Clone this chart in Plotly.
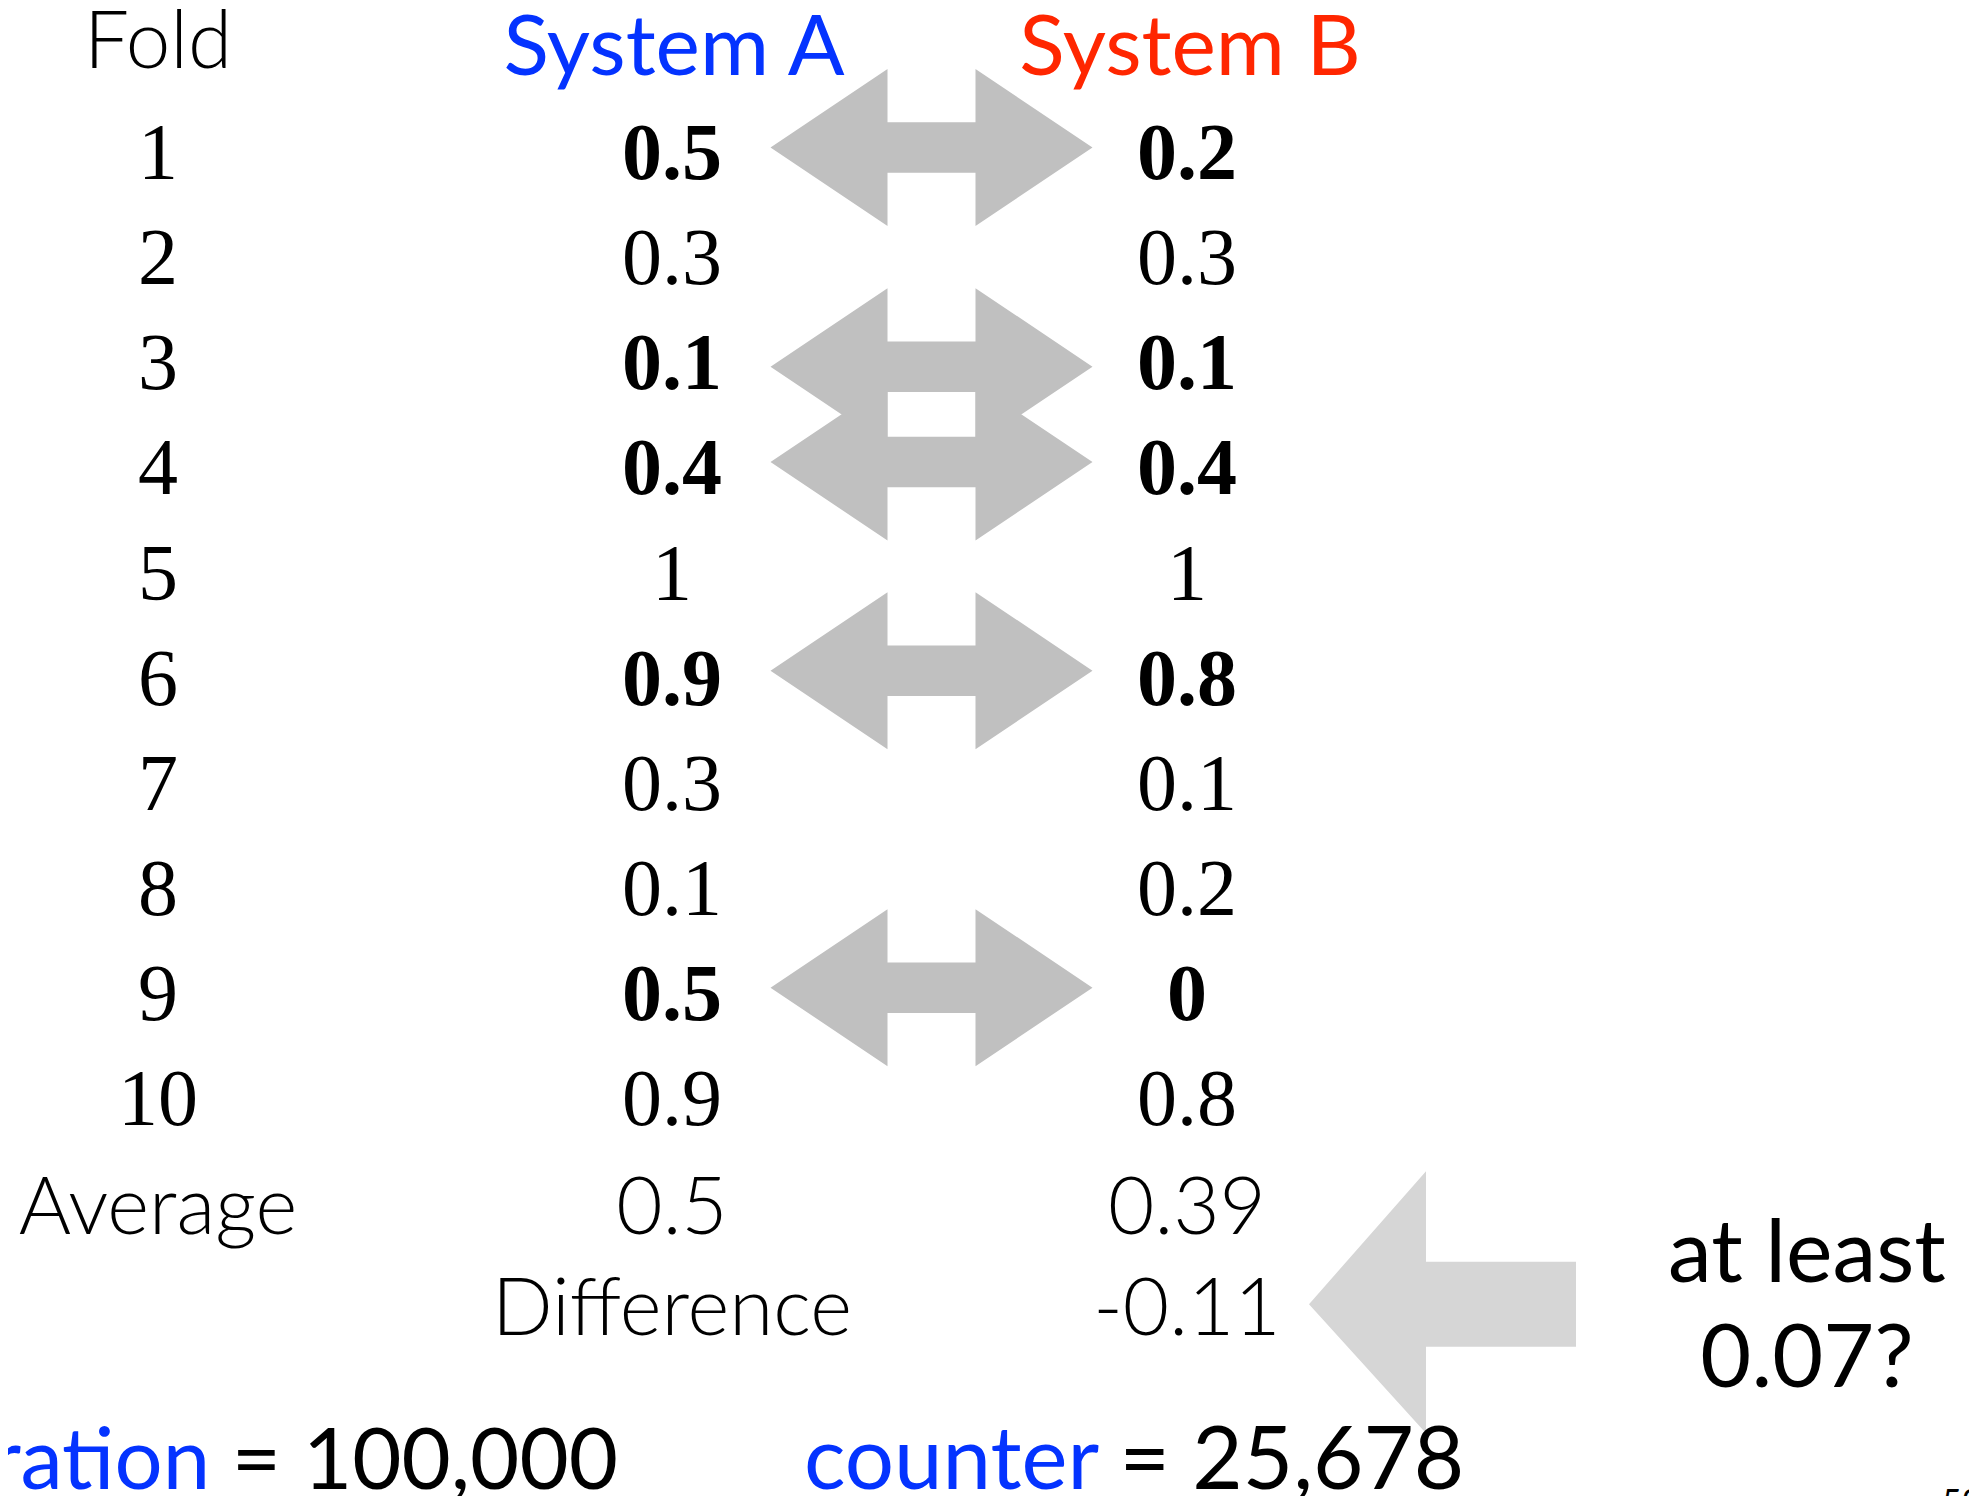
import plotly.graph_objects as go

# ---------------- data ----------------
fold_labels = ["1", "2", "3", "4", "5", "6", "7", "8", "9", "10"]
system_a = [0.5, 0.3, 0.1, 0.4, 1, 0.9, 0.3, 0.1, 0.5, 0.9]
system_b = [0.2, 0.3, 0.1, 0.4, 1, 0.8, 0.1, 0.2, 0, 0.8]
swapped_folds = [1, 3, 4, 6, 9]          # rows shown in bold with a swap arrow
average_a = 0.5
average_b = 0.39
difference = -0.11
header_labels = ["Fold", "System A", "System B"]
question_lines = ["at least", "0.07?"]
iteration_label = "ration"
iteration_value = "100,000"
counter_label = "counter"
counter_value = "25,678"
slide_number = "53"

# ---------------- layout constants ----------------
W, H = 1977, 1496
PAGE_MARGIN = 8      # default browser body margin
ROW0 = 54.0          # header row centre (px)
STEP = 105.1         # row pitch (px)
X_FOLD, X_A, X_B = 158, 672, 1187
BLUE = "#0433FF"
RED = "#FF2600"
ARROW_GREY = "#C0C0C0"
BIG_ARROW_GREY = "#D6D6D6"
SERIF = "Liberation Serif, Times New Roman, serif"
SANS = "Lato, Open Sans, sans-serif"


def row_y(i):
    return ROW0 + i * STEP


def fmt(v):
    return f"{v:g}"


fig = go.Figure()

rows = list(range(1, len(fold_labels) + 1))
ys = [row_y(i) for i in rows]

# fold numbers
fig.add_trace(go.Scatter(
    x=[X_FOLD] * len(rows), y=ys, text=fold_labels, mode="text",
    textposition="middle center", cliponaxis=False,
    textfont=dict(family=SERIF, size=80, color="black"),
    hoverinfo="skip"))


def cell_texts(values):
    out = []
    for r, v in zip(rows, values):
        s = fmt(v)
        out.append(f"<b>{s}</b>" if r in swapped_folds else s)
    return out


fig.add_trace(go.Scatter(
    x=[X_A] * len(rows), y=ys, text=cell_texts(system_a), mode="text",
    textposition="middle center", cliponaxis=False,
    textfont=dict(family=SERIF, size=80, color="black"),
    hoverinfo="skip"))
fig.add_trace(go.Scatter(
    x=[X_B] * len(rows), y=ys, text=cell_texts(system_b), mode="text",
    textposition="middle center", cliponaxis=False,
    textfont=dict(family=SERIF, size=80, color="black"),
    hoverinfo="skip"))

# summary rows
fig.add_trace(go.Scatter(
    x=[X_FOLD, X_A, X_B, X_A, X_B],
    y=[row_y(11.04), row_y(11.04), row_y(11.04), row_y(12), row_y(12)],
    text=["Average", fmt(average_a), fmt(average_b), "Difference", fmt(difference)],
    mode="text", textposition="middle center", cliponaxis=False,
    textfont=dict(family=SANS, size=80, color="black", weight=300),
    hoverinfo="skip"))

# headers
fig.add_trace(go.Scatter(
    x=[X_FOLD], y=[row_y(0) - 6],
    text=header_labels[:1], mode="text", textposition="middle center",
    cliponaxis=False,
    textfont=dict(family=SANS, size=80, color="black", weight=300),
    hoverinfo="skip"))
fig.add_trace(go.Scatter(
    x=[X_A + 2, X_B + 3], y=[row_y(0), row_y(0)],
    text=header_labels[1:], mode="text", textposition="middle center",
    cliponaxis=False,
    textfont=dict(family=SANS, size=84, color=[BLUE, RED], weight=400),
    hoverinfo="skip"))

# question on the right
fig.add_trace(go.Scatter(
    x=[1807, 1807], y=[row_y(11.47), row_y(12.47)],
    text=question_lines, mode="text", textposition="middle center",
    cliponaxis=False,
    textfont=dict(family=SANS, size=88, color="black"),
    hoverinfo="skip"))

# bottom line
fig.add_trace(go.Scatter(
    x=[618], y=[row_y(13.45)],
    text=[f"<span style='color:{BLUE}'>{iteration_label}</span> = {iteration_value}"],
    mode="text", textposition="middle left", cliponaxis=False,
    textfont=dict(family=SANS, size=85, color="black"),
    hoverinfo="skip"))
fig.add_trace(go.Scatter(
    x=[804], y=[row_y(13.45)],
    text=[f"<span style='color:{BLUE}'>{counter_label}</span> = {counter_value}"],
    mode="text", textposition="middle right", cliponaxis=False,
    textfont=dict(family=SANS, size=87, color="black"),
    hoverinfo="skip"))

# ---------------- swap arrows (grey double-headed) ----------------
ACX = 931.5
TIP, NECK, HEAD_H, SHAFT_H = 161, 44, 78.5, 25.3
nudges = {1: -11.6, 3: -2.6, 4: -12.4, 6: -13.9, 9: -12.2}
for r in swapped_folds:
    cy = row_y(r) + nudges.get(r, -12)
    pts = [
        (ACX - TIP, cy),
        (ACX - NECK, cy - HEAD_H),
        (ACX - NECK, cy - SHAFT_H),
        (ACX + NECK, cy - SHAFT_H),
        (ACX + NECK, cy - HEAD_H),
        (ACX + TIP, cy),
        (ACX + NECK, cy + HEAD_H),
        (ACX + NECK, cy + SHAFT_H),
        (ACX - NECK, cy + SHAFT_H),
        (ACX - NECK, cy + HEAD_H),
    ]
    path = "M " + " L ".join(f"{x:.1f},{y:.1f}" for x, y in pts) + " Z"
    fig.add_shape(type="path", path=path, fillcolor=ARROW_GREY,
                  line=dict(width=0), layer="below")

# big left-pointing arrow at the difference row
cy = row_y(12) - 11
pts = [(1309, cy), (1426, cy - 133), (1426, cy - 42.5), (1576, cy - 42.5),
       (1576, cy + 42.5), (1426, cy + 42.5), (1426, cy + 129)]
path = "M " + " L ".join(f"{x:.1f},{y:.1f}" for x, y in pts) + " Z"
fig.add_shape(type="path", path=path, fillcolor=BIG_ARROW_GREY,
              line=dict(width=0), layer="below")

fig.add_annotation(
    x=1940, y=1478, xref="x", yref="y", xanchor="left", yanchor="top",
    text=slide_number, showarrow=False,
    font=dict(family=SANS, size=34, color="black"))

# the page body keeps its default 8px margin, so the figure is shrunk by it
# and the axis ranges start at that offset: data units == page pixels
fig.update_layout(
    width=W - PAGE_MARGIN, height=H - PAGE_MARGIN,
    margin=dict(l=0, r=0, t=0, b=0),
    paper_bgcolor="white", plot_bgcolor="white", showlegend=False,
    xaxis=dict(range=[PAGE_MARGIN, W], visible=False, fixedrange=True),
    yaxis=dict(range=[H, PAGE_MARGIN], visible=False, fixedrange=True),
)

fig.write_html("out.html")
